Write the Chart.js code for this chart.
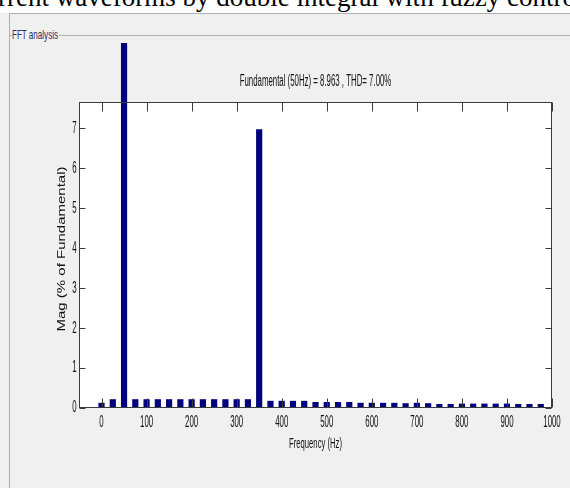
<!DOCTYPE html>
<html>
<head>
<meta charset="utf-8">
<script src="https://cdn.jsdelivr.net/npm/chart.js@4/dist/chart.umd.min.js"></script>
<style>
  html, body { margin: 0; padding: 0; }
  body { width: 570px; height: 488px; position: relative; overflow: hidden; background: #f0f0f0; }
  #caption { position: absolute; left: 0; top: 0; width: 570px; height: 13px; overflow: hidden; background: #fff; }
  #caption span { position: absolute; top: -16px; white-space: nowrap; font: 27px/26px 'Liberation Serif', 'Times New Roman', serif; color: #000; }
  .rule { position: absolute; background: #b0b0b0; }
  #panelTitle { position: absolute; left: 12px; top: 27px; white-space: nowrap; font: 13px 'Liberation Sans', Arial, sans-serif; color: #2b2b66; transform: scaleX(0.62); transform-origin: 0 0; }
  #plot { position: absolute; left: 0; top: 0; }
</style>
</head>
<body>
<div id="caption"><span id="capText">current waveforms by double integral with fuzzy control</span></div>
<div class="rule" style="left:9px; top:13px; width:561px; height:1px;"></div>
<div class="rule" style="left:9px; top:13px; width:1px; height:475px;"></div>
<div class="rule" style="left:9px; top:35px; width:3px; height:1px;"></div>
<div class="rule" style="left:59px; top:35px; width:511px; height:1px;"></div>
<div id="panelTitle">FFT analysis</div>
<canvas id="plot" width="570" height="488"></canvas>
<script>
// Harmonic spectrum, 25 Hz resolution, magnitude in % of the 50 Hz fundamental
const freqHz = [0, 25, 50, 75, 100, 125, 150, 175, 200, 225,
                250, 275, 300, 325, 350, 375, 400, 425, 450, 475,
                500, 525, 550, 575, 600, 625, 650, 675, 700, 725,
                750, 775, 800, 825, 850, 875, 900, 925, 950, 975];
const magPct = [0.13, 0.22, 100, 0.22, 0.22, 0.22, 0.22, 0.22, 0.22, 0.22,
                0.22, 0.22, 0.22, 0.22, 6.98, 0.18, 0.18, 0.18, 0.18, 0.15,
                0.15, 0.15, 0.15, 0.13, 0.13, 0.13, 0.13, 0.12, 0.13, 0.12,
                0.10, 0.10, 0.11, 0.11, 0.11, 0.11, 0.11, 0.10, 0.10, 0.10];
const xTickHz = [0, 100, 200, 300, 400, 500, 600, 700, 800, 900, 1000];
const yTickPct = [0, 1, 2, 3, 4, 5, 6, 7];
const titleText = 'Fundamental (50Hz) = 8.963 , THD= 7.00%';
const xTitle = 'Frequency (Hz)';
const yTitle = 'Mag (% of Fundamental)';

// hide the leading "cu" of the caption behind the left edge
(function () {
  const span = document.getElementById('capText');
  const probe = document.createElement('span');
  probe.style.font = getComputedStyle(span).font;
  probe.style.position = 'absolute';
  probe.style.visibility = 'hidden';
  probe.textContent = 'cu';
  document.body.appendChild(probe);
  span.style.left = (-probe.getBoundingClientRect().width - 2) + 'px';
  probe.remove();
})();

const SANS = "'Liberation Sans', Arial, sans-serif";

function squeezed(ctx, text, x, y, font, sx, align) {
  ctx.save();
  ctx.translate(x, y);
  ctx.scale(sx, 1);
  ctx.font = font;
  ctx.textAlign = align;
  ctx.textBaseline = 'middle';
  ctx.fillText(text, 0, 0);
  ctx.restore();
}

// white axes face, boxed frame with inward ticks, and condensed labels
const matlabAxes = {
  id: 'matlabAxes',
  beforeDraw(chart) {
    const { ctx, chartArea: a } = chart;
    ctx.save();
    ctx.fillStyle = '#ffffff';
    ctx.fillRect(a.left, a.top, a.right - a.left, a.bottom - a.top);
    ctx.restore();
  },
  afterDatasetsDraw(chart) {
    const { ctx, chartArea: a, scales: { x, y } } = chart;
    const L = Math.round(a.left) + 0.5, R = Math.round(a.right) - 0.5;
    const T = Math.round(a.top) + 0.5, B = Math.round(a.bottom) - 0.5;
    ctx.save();
    ctx.strokeStyle = '#3a3a3a';
    ctx.lineWidth = 1;
    ctx.beginPath();
    x.ticks.forEach(t => {
      const px = Math.round(x.getPixelForValue(t.value)) + 0.5;
      ctx.moveTo(px, B); ctx.lineTo(px, B - 9);
      ctx.moveTo(px, T); ctx.lineTo(px, T + 9);
    });
    y.ticks.forEach(t => {
      const py = Math.round(y.getPixelForValue(t.value)) + 0.5;
      ctx.moveTo(L, py); ctx.lineTo(L + 6, py);
      ctx.moveTo(R, py); ctx.lineTo(R - 6, py);
    });
    ctx.stroke();
    ctx.strokeRect(L, T, R - L, B - T);

    ctx.fillStyle = '#111111';
    x.ticks.forEach(t => {
      squeezed(ctx, String(t.value), x.getPixelForValue(t.value), a.bottom + 15, '16px ' + SANS, 0.49, 'center');
    });
    y.ticks.forEach(t => {
      squeezed(ctx, String(t.value), a.left - 2.5, y.getPixelForValue(t.value), '16px ' + SANS, 0.49, 'right');
    });
    squeezed(ctx, titleText, (a.left + a.right) / 2, a.top - 20, '16px ' + SANS, 0.49, 'center');
    squeezed(ctx, xTitle, (a.left + a.right) / 2, a.bottom + 36, '14px ' + SANS, 0.55, 'center');

    // rotated y-axis title
    ctx.translate(62, (a.top + a.bottom) / 2 - 6);
    ctx.rotate(-Math.PI / 2);
    ctx.scale(1, 0.78);
    ctx.font = '15px ' + SANS;
    ctx.textAlign = 'center';
    ctx.textBaseline = 'middle';
    ctx.fillText(yTitle, 0, 0);
    ctx.restore();
  }
};

new Chart(document.getElementById('plot'), {
  type: 'bar',
  data: {
    datasets: [{
      data: freqHz.map((f, i) => ({ x: f, y: magPct[i] })),
      backgroundColor: '#00007e',
      borderWidth: 0,
      barPercentage: 0.55,
      categoryPercentage: 1,
      clip: { left: 0, top: 59, right: 0, bottom: 0 }
    }]
  },
  options: {
    responsive: false,
    devicePixelRatio: 1,
    animation: false,
    layout: { padding: { left: 79, top: 102, right: 18, bottom: 80 } },
    plugins: { legend: { display: false }, title: { display: false }, tooltip: { enabled: false } },
    scales: {
      x: {
        type: 'linear', min: -50, max: 1000, offset: false,
        grid: { display: false, drawTicks: false }, border: { display: false },
        ticks: { display: false },
        afterBuildTicks: s => { s.ticks = xTickHz.map(v => ({ value: v })); }
      },
      y: {
        type: 'linear', min: 0, max: 7.66,
        grid: { display: false, drawTicks: false }, border: { display: false },
        ticks: { display: false },
        afterBuildTicks: s => { s.ticks = yTickPct.map(v => ({ value: v })); }
      }
    }
  },
  plugins: [matlabAxes]
});
</script>
</body>
</html>
